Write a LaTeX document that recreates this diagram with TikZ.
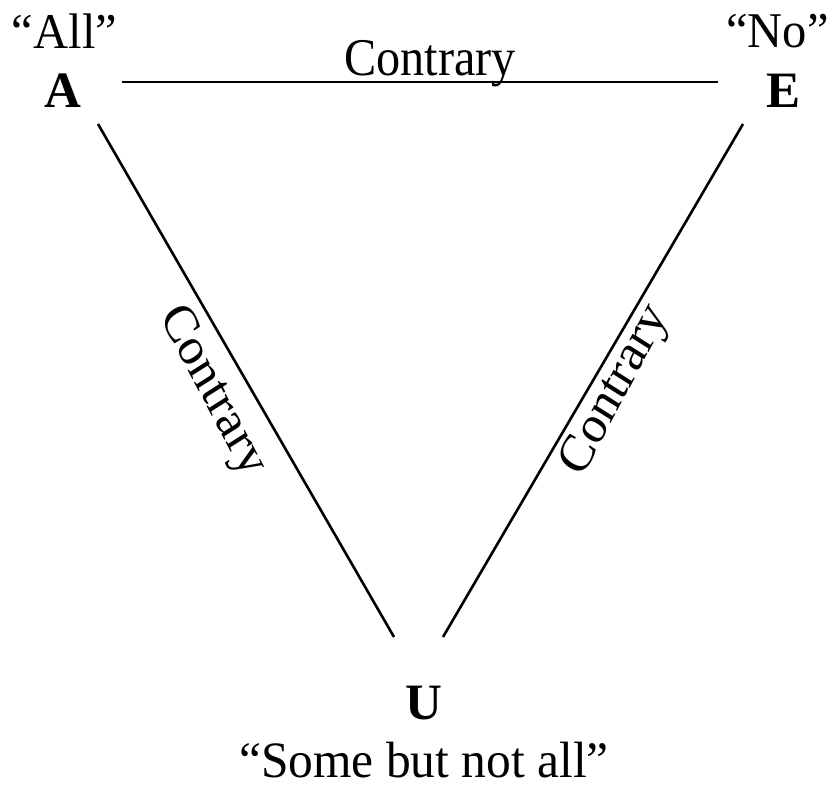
\documentclass[tikz,border=0pt]{standalone}
\usepackage{fontspec}
\setmainfont{Liberation Serif}
\begin{document}
\begin{tikzpicture}[x=1pt,y=-1pt,
  lbl/.style={font=\fontsize{53}{60}\selectfont, xscale=0.91, inner sep=0pt},
  quote/.style={font=\fontsize{50}{58}\selectfont, xscale=0.97, inner sep=0pt, anchor=base},
  vert/.style={font=\fontsize{51}{58}\selectfont\bfseries, inner sep=0pt, anchor=base},
  conn/.style={line width=2.6pt}]
\useasboundingbox (0,0) rectangle (840,787);
% vertex letters
\node[vert] (A) at (62.5,107) {A};
\node[vert] (E) at (783,107) {E};
\node[vert] (U) at (424,719) {U};
% quotations
\node[quote] (qA) at (64.5,48) {“All”};
\node[quote] (qE) at (777.5,47) {“No”};
\node[quote, font=\fontsize{51}{58}\selectfont, xscale=1.0] (qU) at (424,777) {“Some but not all”};
% line end points
\coordinate (a1) at (122,82);
\coordinate (e1) at (718,82);
\coordinate (a2) at (98,124);
\coordinate (u1) at (394,637);
\coordinate (e2) at (743,124);
\coordinate (u2) at (443,637);
% connectors
\draw[conn] (a1) -- (e1);
\draw[conn] (a2) -- (u1);
\draw[conn] (e2) -- (u2);
% labels
\node[lbl, anchor=base] (cTop) at (430,75) {Contrary};
\node[lbl, rotate=-60] (cLeft) at (212,392) {Contrary};
\node[lbl, rotate=60] (cRight) at (616,391) {Contrary};
\end{tikzpicture}
\end{document}
